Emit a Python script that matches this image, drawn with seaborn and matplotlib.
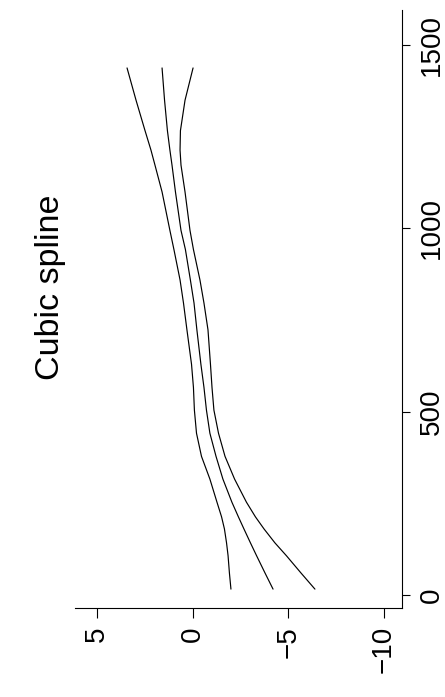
import matplotlib
matplotlib.use("Agg")
import matplotlib.pyplot as plt
import seaborn as sns
import pandas as pd

# position along the series (drawn on the vertical axis)
position = [16, 60, 107, 142, 180, 213, 253, 316, 378, 441, 504, 566, 629, 723,
            796, 859, 942, 994, 1099, 1172, 1213, 1266, 1349, 1437]
# fitted cubic spline and its upper / lower bands (drawn on the horizontal axis)
fit = [-4.20, -3.78, -3.34, -3.02, -2.68, -2.39, -2.05, -1.58, -1.22, -0.90, -0.72,
       -0.59, -0.43, -0.22, -0.07, 0.12, 0.38, 0.61, 0.90, 1.08, 1.19, 1.32, 1.47, 1.60]
upper = [-2.00, -1.92, -1.85, -1.77, -1.66, -1.51, -1.27, -0.90, -0.46, -0.20, -0.09,
         -0.04, 0.06, 0.30, 0.48, 0.66, 0.98, 1.19, 1.60, 1.97, 2.18, 2.49, 2.96, 3.43]
lower = [-6.39, -5.66, -4.90, -4.30, -3.73, -3.28, -2.81, -2.19, -1.69, -1.35, -1.11,
         -1.01, -0.93, -0.80, -0.59, -0.38, -0.04, 0.14, 0.40, 0.61, 0.66, 0.64, 0.40, -0.02]

value_ticks = [5, 0, -5, -10]
value_labels = ["5", "0", "\u22125", "\u221210"]
pos_ticks = [0, 500, 1000, 1500]
pos_labels = ["0", "500", "1000", "1500"]

sns.set_style("white")
plt.rcParams["font.family"] = ["Liberation Sans", "DejaVu Sans"]
plt.rcParams["text.color"] = "black"

fig = plt.figure(figsize=(4.45, 6.97), dpi=100)
ax = fig.add_axes([75 / 445, 1 - 608 / 697, 327 / 445, 598 / 697])

df = pd.DataFrame({"position": position, "fit": fit, "upper": upper, "lower": lower})
for col in ["upper", "fit", "lower"]:
    sns.lineplot(data=df, x=col, y="position", sort=False, estimator=None,
                 color="black", linewidth=0.85, ax=ax)

ax.set_xlim(6.15, -10.94)
ax.set_ylim(-35.5, 1595)

for side in ["top", "left"]:
    ax.spines[side].set_visible(False)
for side in ["right", "bottom"]:
    ax.spines[side].set_visible(True)
    ax.spines[side].set_color("black")
    ax.spines[side].set_linewidth(0.8)

ax.yaxis.tick_right()
ax.set_xticks(value_ticks)
ax.set_xticklabels(value_labels, rotation=90, fontsize=20)
ax.set_yticks(pos_ticks)
ax.set_yticklabels(pos_labels, rotation=90, fontsize=20, va="center")
ax.tick_params(axis="x", direction="out", length=7, width=0.8, pad=6, colors="black", bottom=True)
ax.tick_params(axis="y", direction="out", length=6, width=0.8, pad=6, colors="black", right=True, left=False)
ax.set_xlabel("")
ax.set_ylabel("")

fig.text(50 / 445, 1 - 287 / 697, "Cubic spline", rotation=90,
         ha="center", va="center", fontsize=24.5, color="black")

fig.savefig("out.png", dpi=100)
